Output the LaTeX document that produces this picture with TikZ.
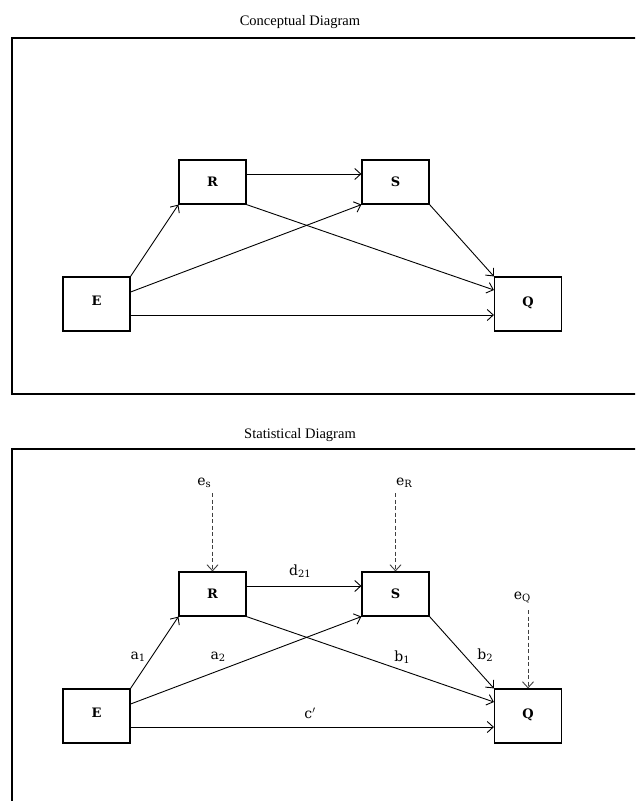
\documentclass[tikz,border=0pt]{standalone}
\usepackage{fontspec}
\setmainfont{Liberation Serif}
\newfontfamily\lblfont{DejaVu Serif}
\usetikzlibrary{arrows.meta}
\newcommand{\sbs}[1]{\raisebox{-2pt}{\fontsize{10}{10}\selectfont #1}}
\begin{document}
\begin{tikzpicture}[x=1pt,y=-1pt,
  box/.style={draw, line width=1.2pt, minimum width=67pt, minimum height=44pt, inner sep=0pt, font=\lblfont\bfseries\fontsize{13}{13}\selectfont},
  bigbox/.style={box, minimum height=54pt},
  conn/.style={line width=0.9pt, -{Straight Barb[length=6pt,width=11pt,line width=0.9pt]}},
  dconn/.style={conn, dash pattern=on 4pt off 2.5pt, draw=black!75},
  lbl/.style={font=\lblfont\fontsize{14}{14}\selectfont, inner sep=0pt},
  frame/.style={line width=2.8pt},
  ttl/.style={font=\fontsize{14.5}{14.5}\selectfont, inner sep=0pt}]
\useasboundingbox (0,0) rectangle (635,801);
\clip (0,0) rectangle (635,801);
\fill[white] (0,0) rectangle (635,801);

% ---------- Conceptual diagram ----------
\node[ttl] (t1) at (300,22) {Conceptual Diagram};
\draw[frame] (12,38) rectangle (670,394);

\node[box] (R1) at (212.5,182) {R};
\node[box] (S1) at (395.5,182) {S};
\node[bigbox] (E1) at (96.5,304) {\raisebox{6pt}{E}};
\node[bigbox] (Q1) at (528,304) {\raisebox{5pt}{Q}};

\draw[conn] (E1.north east) -- (R1.south west);
\draw[conn] ([yshift=12pt]E1.east) -- (S1.south west);
\draw[conn] ([yshift=-11pt]E1.east) -- ([yshift=-11pt]Q1.west);
\draw[conn] ([yshift=8pt]R1.east) -- ([yshift=8pt]S1.west);
\draw[conn] (R1.south east) -- ([yshift=14pt]Q1.west);
\draw[conn] (S1.south east) -- (Q1.north west);

% ---------- Statistical diagram ----------
\node[ttl] (t2) at (300,435) {Statistical Diagram};
\draw[frame] (12,449) rectangle (670,840);

\node[box] (R2) at (212.5,594) {R};
\node[box] (S2) at (395.5,594) {S};
\node[bigbox] (E2) at (96.5,716) {\raisebox{6pt}{E}};
\node[bigbox] (Q2) at (528,716) {\raisebox{5pt}{Q}};

\draw[conn] (E2.north east) -- (R2.south west);
\draw[conn] ([yshift=12pt]E2.east) -- (S2.south west);
\draw[conn] ([yshift=-11pt]E2.east) -- ([yshift=-11pt]Q2.west);
\draw[conn] ([yshift=8pt]R2.east) -- ([yshift=8pt]S2.west);
\draw[conn] (R2.south east) -- ([yshift=14pt]Q2.west);
\draw[conn] (S2.south east) -- (Q2.north west);

% error terms
\node[lbl] (eS) at (204,483) {e\sbs{s}};
\node[lbl] (eR) at (404,483) {e\sbs{R}};
\node[lbl] (eQ) at (522,598) {e\sbs{Q}};
\coordinate (eS0) at (212.5,493);
\coordinate (eR0) at (395.5,493);
\coordinate (eQ0) at (528,610);
\draw[dconn] (eS0) -- (R2.north);
\draw[dconn] (eR0) -- (S2.north);
\draw[dconn] (eQ0) -- (Q2.north);

% path labels
\node[lbl] (d21) at (300,571) {d\sbs{21}};
\node[lbl] (a1) at (138,657) {a\sbs{1}};
\node[lbl] (a2) at (218,657) {a\sbs{2}};
\node[lbl] (b1) at (402,657) {b\sbs{1}};
\node[lbl] (b2) at (485,655) {b\sbs{2}};
\node[lbl] (c) at (310,713) {c$'$};
\end{tikzpicture}
\end{document}
